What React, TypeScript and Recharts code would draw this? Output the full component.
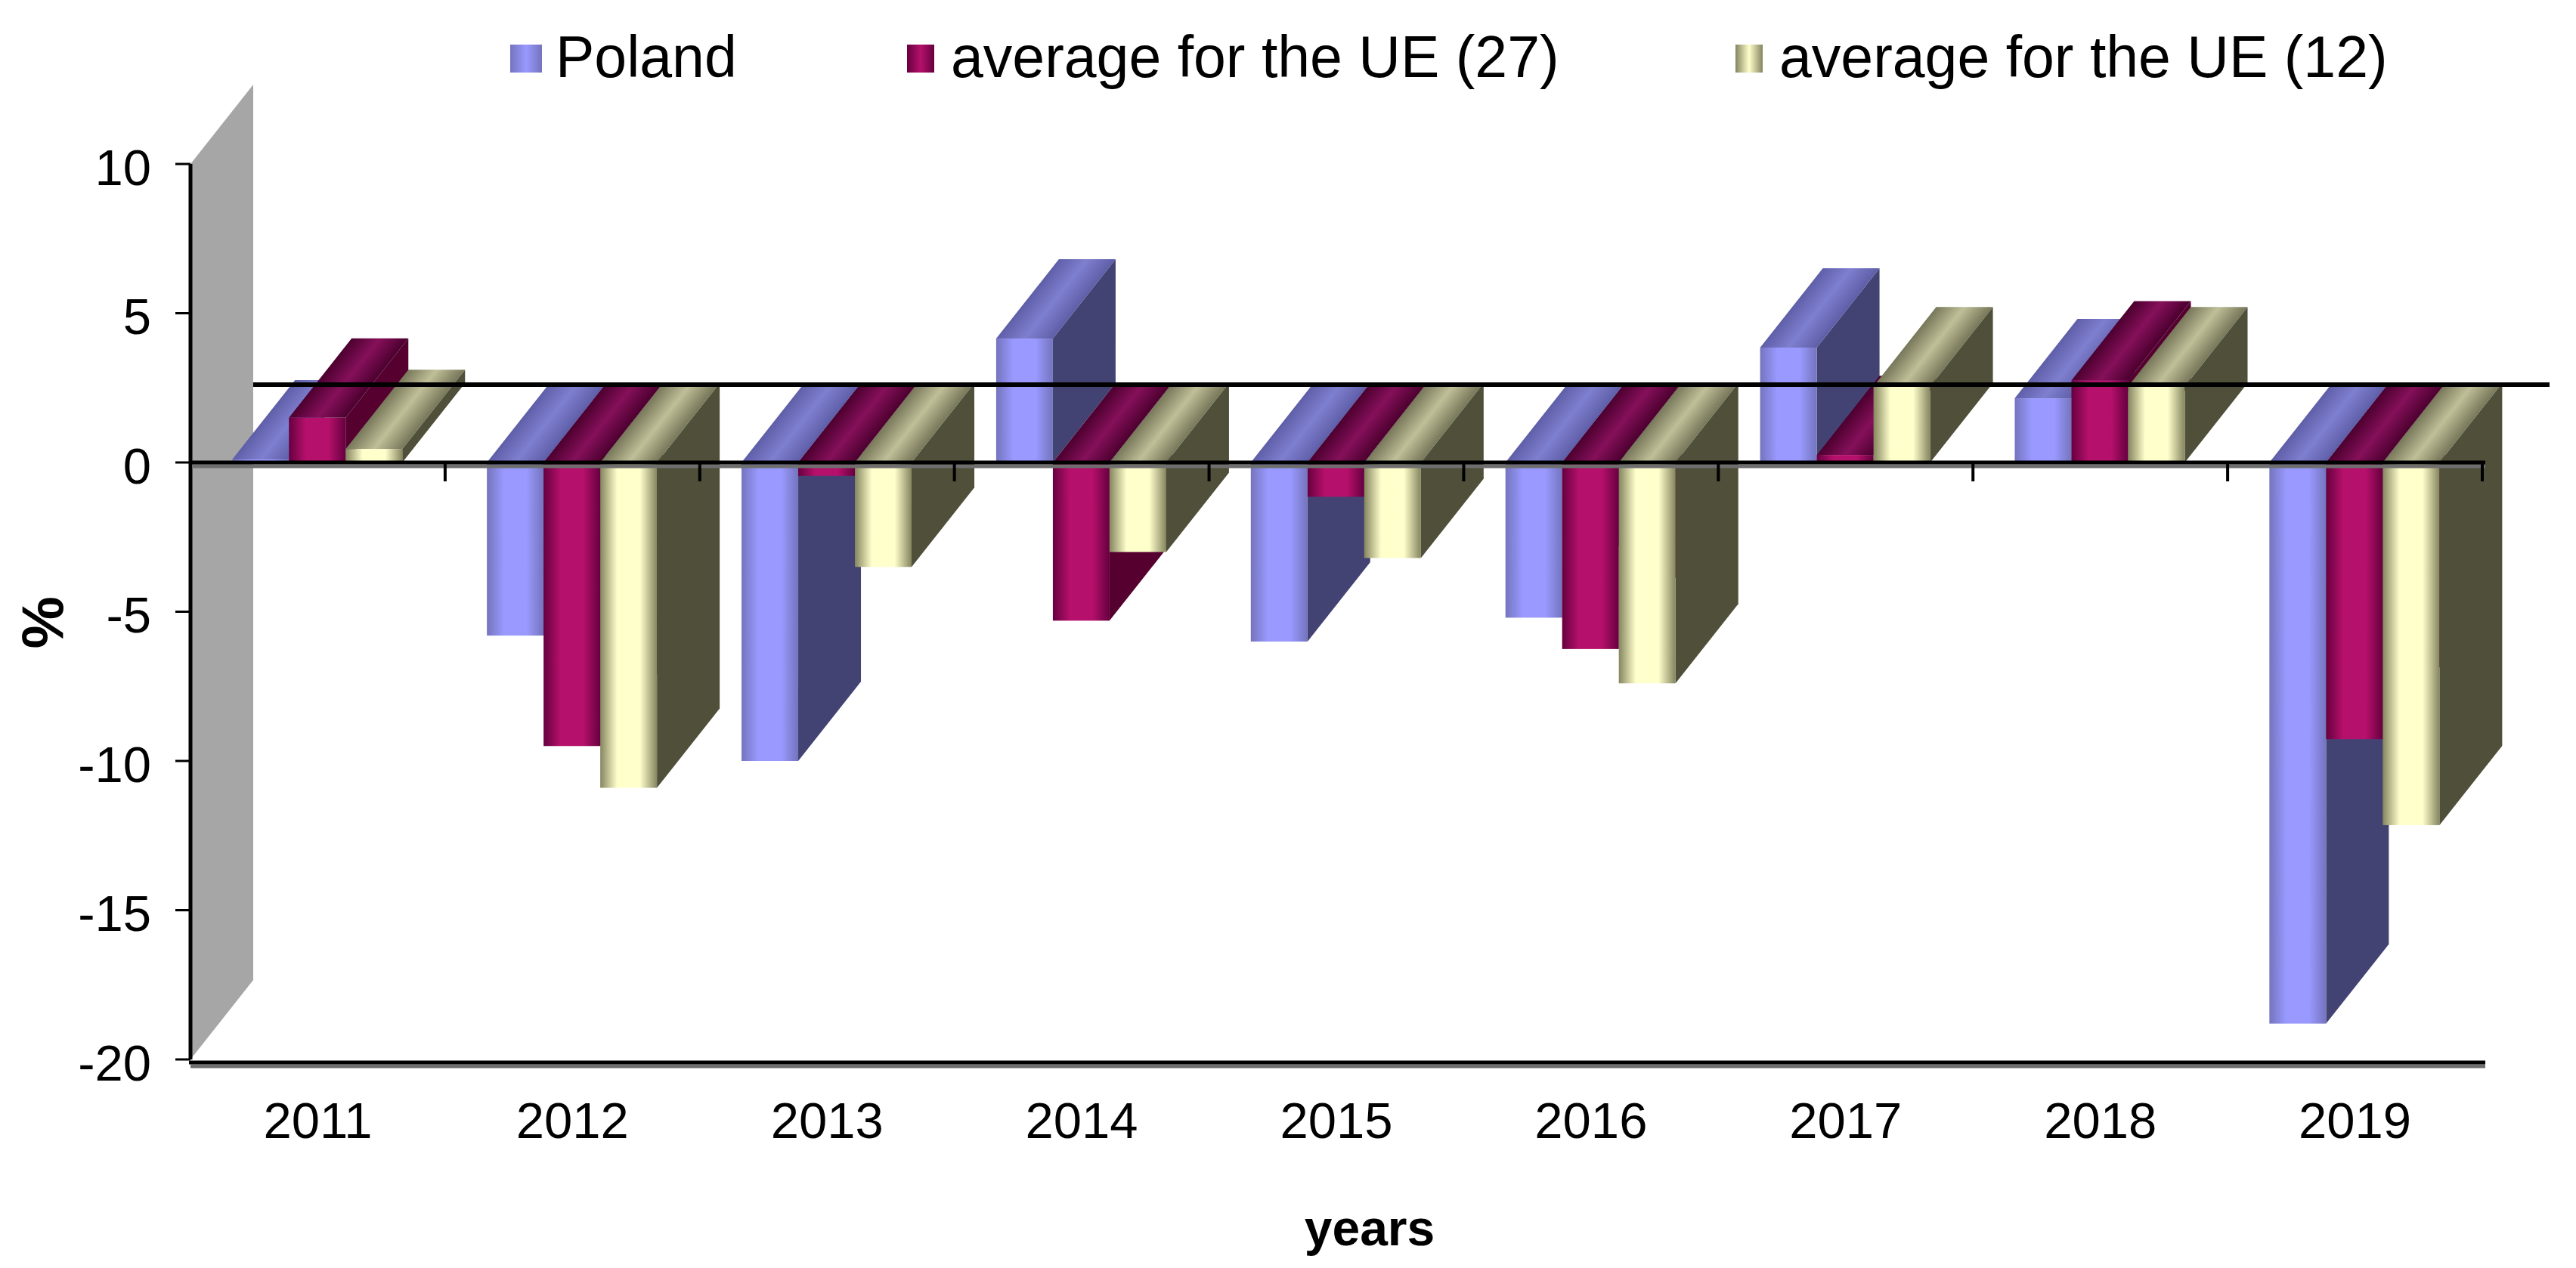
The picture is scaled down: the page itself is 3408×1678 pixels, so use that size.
import React from "react";
import {
  Bar,
  BarChart,
  Legend,
  ReferenceArea,
  ReferenceLine,
  XAxis,
  YAxis,
} from "recharts";

const years = ["2011", "2012", "2013", "2014", "2015", "2016", "2017", "2018", "2019"];
const poland = [0.1, -5.8, -10.0, 4.15, -6.0, -5.2, 3.85, 2.15, -18.8];
const eu27 = [1.5, -9.5, -0.45, -5.3, -1.15, -6.25, 0.25, 2.75, -9.27];
const eu12 = [0.45, -10.9, -3.5, -3.0, -3.2, -7.4, 2.55, 2.55, -12.15];
const yTicks = [10, 5, 0, -5, -10, -15, -20];

const rows = years.map((year, i) => ({
  year,
  poland: poland[i],
  eu27: eu27[i],
  eu12: eu12[i],
}));

const FONT = '"Liberation Sans", Arial, sans-serif';

// the fake excel 3d depth, everything is pushed back by this much
const DEPTH_X = 83;
const DEPTH_Y = -105;

const tones = {
  poland: {
    front: ["#7474BE", "#9999FF", "#9999FF", "#7474BE"],
    top: ["#5E5EA8", "#7F7FD0", "#5E5EA8"],
    side: "#434373",
  },
  eu27: {
    front: ["#66003F", "#B5106B", "#B5106B", "#66003F"],
    top: ["#4C002F", "#85105A", "#4C002F"],
    side: "#56002F",
  },
  eu12: {
    front: ["#85855F", "#FFFFCC", "#FFFFCC", "#85855F"],
    top: ["#77775A", "#BFBF98", "#77775A"],
    side: "#4F4F3A",
  },
};

function Bar3D(props: any) {
  const { x, y, width, height, index, toneKey } = props;
  const tone = tones[toneKey as keyof typeof tones];
  const top = Math.min(y, y + height);
  const bottom = Math.max(y, y + height);
  const right = x + width;
  // gradient runs square to the slanted edges of the top face
  const len2 = DEPTH_X * DEPTH_X + DEPTH_Y * DEPTH_Y;
  const gx = (width * DEPTH_Y * DEPTH_Y) / len2;
  const gy = (width * -DEPTH_Y * DEPTH_X) / len2;
  const frontId = `front-${toneKey}`;
  const topId = `top-${toneKey}-${index}`;
  return (
    <g>
      <defs>
        <linearGradient id={frontId} x1="0" y1="0" x2="1" y2="0">
          <stop offset="0%" stopColor={tone.front[0]} />
          <stop offset="30%" stopColor={tone.front[1]} />
          <stop offset="70%" stopColor={tone.front[2]} />
          <stop offset="100%" stopColor={tone.front[3]} />
        </linearGradient>
        <linearGradient
          id={topId}
          gradientUnits="userSpaceOnUse"
          x1={x}
          y1={top}
          x2={x + gx}
          y2={top + gy}
        >
          <stop offset="0%" stopColor={tone.top[0]} />
          <stop offset="50%" stopColor={tone.top[1]} />
          <stop offset="100%" stopColor={tone.top[2]} />
        </linearGradient>
      </defs>
      <polygon
        fill={tone.side}
        points={`${right},${top} ${right + DEPTH_X},${top + DEPTH_Y} ${right + DEPTH_X},${bottom + DEPTH_Y} ${right},${bottom}`}
      />
      <polygon
        fill={`url(#${topId})`}
        points={`${x},${top} ${right},${top} ${right + DEPTH_X},${top + DEPTH_Y} ${x + DEPTH_X},${top + DEPTH_Y}`}
      />
      <rect x={x} y={top} width={width} height={bottom - top} fill={`url(#${frontId})`} />
    </g>
  );
}

function Wall(props: any) {
  const { x, y, height } = props;
  const b = y + height;
  return (
    <polygon
      fill="#A6A6A6"
      points={`${x},${b} ${x + DEPTH_X},${b + DEPTH_Y} ${x + DEPTH_X},${y + DEPTH_Y} ${x},${y}`}
    />
  );
}

function BackRule(props: any) {
  const { x1, x2, y1 } = props;
  return (
    <line
      x1={x1 + DEPTH_X}
      x2={x2 + DEPTH_X + 6}
      y1={y1 + DEPTH_Y + 2}
      y2={y1 + DEPTH_Y + 2}
      stroke="#000"
      strokeWidth={6}
    />
  );
}

// black axis rule with the grey floor edge under it
function FrontRule(props: any) {
  const { x1, x2, y1, ticks, shift = 0 } = props;
  const y = y1 + shift;
  const step = (x2 - x1) / years.length;
  return (
    <g>
      <line x1={x1} x2={x2 + 4} y1={y + 5} y2={y + 5} stroke="#6E6E6E" strokeWidth={5} />
      <line x1={x1 - 2} x2={x2 + 4} y1={y} y2={y} stroke="#000" strokeWidth={5} />
      {ticks &&
        years
          .concat("end")
          .map((_, i) => (
            <line
              key={i}
              x1={x1 + step * i}
              x2={x1 + step * i}
              y1={y}
              y2={y + 25}
              stroke="#000"
              strokeWidth={4}
            />
          ))}
    </g>
  );
}

const legendLeft = [675, 1200, 2296];
const legendGradient: Record<string, string> = {
  Poland: "linear-gradient(90deg,#7474BE,#9999FF 50%,#7474BE)",
  "average for the UE (27)": "linear-gradient(90deg,#66003F,#B5106B 50%,#66003F)",
  "average for the UE (12)": "linear-gradient(90deg,#85855F,#FFFFCC 50%,#85855F)",
};

function LegendRow({ payload }: any) {
  return (
    <div style={{ position: "relative", width: 0, height: 0 }}>
      {(payload || []).map((item: any, i: number) => (
        <div
          key={item.value}
          style={{
            position: "absolute",
            left: legendLeft[i],
            top: 30,
            whiteSpace: "nowrap",
            fontFamily: FONT,
            fontSize: 77,
            lineHeight: "90px",
            color: "#000",
          }}
        >
          <span
            style={{
              position: "absolute",
              left: 0,
              top: 29,
              width: i === 0 ? 42 : 36,
              height: 37,
              background: legendGradient[item.value],
            }}
          />
          <span style={{ marginLeft: i === 0 ? 60 : 58 }}>{item.value}</span>
        </div>
      ))}
    </div>
  );
}

export default function App() {
  return (
    <div style={{ position: "absolute", left: 0, top: 0, width: 3408, height: 1678, background: "#fff" }}>
      <BarChart
        width={3408}
        height={1678}
        data={rows}
        margin={{ top: 217, right: 124, bottom: 0, left: 0 }}
        barGap={0}
        barCategoryGap="16.4%"
      >
        <ReferenceArea y1={-20} y2={10} shape={<Wall />} fillOpacity={1} ifOverflow="visible" />
        <ReferenceLine y={0} shape={<BackRule />} ifOverflow="visible" />
        <XAxis
          dataKey="year"
          height={276}
          axisLine={false}
          tickLine={false}
          tickMargin={50}
          interval={0}
          tick={{ fontFamily: FONT, fontSize: 67, fill: "#000" }}
          label={{
            value: "years",
            position: "insideBottom",
            offset: 30,
            dx: 44,
            fontFamily: FONT,
            fontSize: 66,
            fontWeight: 700,
            fill: "#000",
          }}
        />
        <YAxis
          width={252}
          domain={[-20, 10]}
          ticks={yTicks}
          interval={0}
          axisLine={{ stroke: "#000", strokeWidth: 5 }}
          tickLine={{ stroke: "#000", strokeWidth: 3 }}
          tickSize={20}
          tickMargin={32}
          tick={{ fontFamily: FONT, fontSize: 67, fill: "#000", dy: 4 }}
          label={{
            value: "%",
            angle: -90,
            position: "insideLeft",
            offset: 55,
            dy: 49,
            fontFamily: FONT,
            fontSize: 78,
            fontWeight: 700,
            fill: "#000",
          }}
        />
        <Bar
          dataKey="poland"
          name="Poland"
          fill="#9999FF"
          isAnimationActive={false}
          shape={(p: any) => <Bar3D {...p} toneKey="poland" />}
        />
        <Bar
          dataKey="eu27"
          name="average for the UE (27)"
          fill="#B5106B"
          isAnimationActive={false}
          shape={(p: any) => <Bar3D {...p} toneKey="eu27" />}
        />
        <Bar
          dataKey="eu12"
          name="average for the UE (12)"
          fill="#FFFFCC"
          isAnimationActive={false}
          shape={(p: any) => <Bar3D {...p} toneKey="eu12" />}
        />
        <ReferenceLine y={0} shape={<FrontRule ticks />} ifOverflow="visible" zIndex={1000} />
        <ReferenceLine y={-20} shape={<FrontRule shift={4} />} ifOverflow="visible" zIndex={1000} />
        <Legend content={<LegendRow />} itemSorter={null} wrapperStyle={{ left: 0, top: 0, width: 0, height: 0 }} />
      </BarChart>
    </div>
  );
}
